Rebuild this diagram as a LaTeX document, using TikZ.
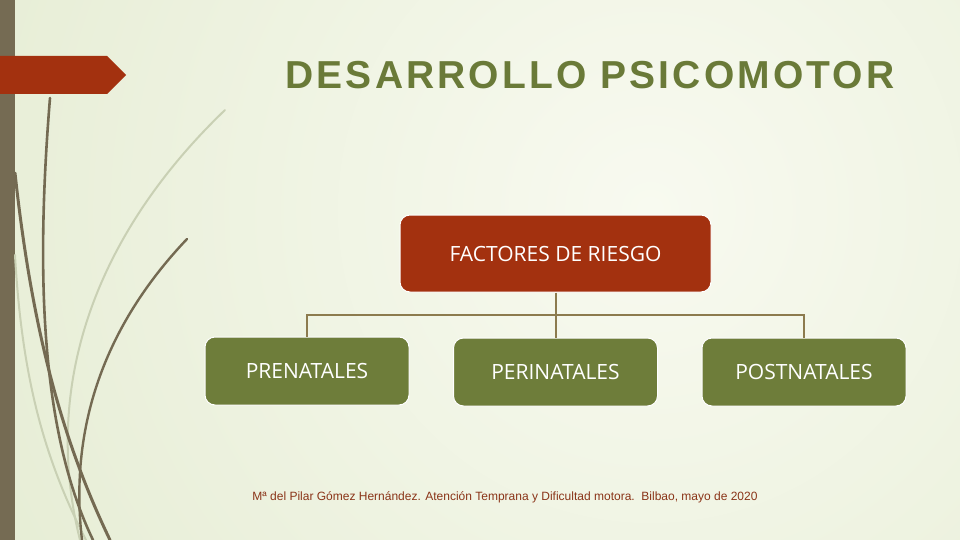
\documentclass[tikz,border=0pt]{standalone}
\usepackage{fontspec}
\setmainfont{Open Sans}
\newfontfamily\titlefont[LetterSpace=8]{Liberation Sans}
\newfontfamily\footfont{Liberation Sans}
\definecolor{bgout}{HTML}{DAE4C2}
\definecolor{bgin}{HTML}{F8FAF0}
\definecolor{barbrown}{HTML}{756B53}
\definecolor{rust}{HTML}{A3310F}
\definecolor{olive}{HTML}{6E7D3A}
\definecolor{titlegreen}{HTML}{6A7A38}
\definecolor{linktan}{HTML}{8C7B4E}
\definecolor{footred}{HTML}{8A3418}
\definecolor{grassdark}{HTML}{746A52}
\definecolor{grasslight}{HTML}{C9D0B4}
\tikzset{
  box/.style={draw=white, line width=1pt, rounded corners=10pt, minimum width=204pt, minimum height=68pt, inner sep=0pt, text=white, font=\fontsize{21}{24}\selectfont},
  topbox/.style={box, fill=rust, minimum width=311pt, minimum height=77pt},
  childbox/.style={box, fill=olive},
  link/.style={draw=linktan, line width=2pt},
  grassd/.style={draw=grassdark, line cap=round},
  grassl/.style={draw=grasslight, line cap=round},
}
\begin{document}
\begin{tikzpicture}[x=1pt,y=-1pt]
\useasboundingbox (0,0) rectangle (960,540);
\begin{scope}
\clip (0,0) rectangle (960,540);
\shade[inner color=bgin, outer color=bgout] (650,210) circle (1250);
\end{scope}
% left bar
\fill[barbrown] (0,0) rectangle (15,540);
% banner
\fill[rust] (0,56) -- (107,56) -- (126,75) -- (107,94) -- (0,94) -- cycle;
% grass strokes
\draw[grassl, line width=2pt] (225,110) .. controls (100,230) and (40,380) .. (80,540);
\draw[grassl, line width=2pt] (15,255) .. controls (22,380) and (45,460) .. (86,540);
\draw[grassd, line width=2.6pt] (50,98) .. controls (36,270) and (40,430) .. (93,540);
\draw[grassd, line width=3pt] (15,173) .. controls (32,330) and (62,440) .. (110,540);
\draw[grassd, line width=2.4pt] (187,239) .. controls (110,320) and (68,420) .. (82,540);
% title
\node[text=titlegreen, font=\titlefont\bfseries\fontsize{39}{42}\selectfont] (title) at (590,75) {DESARROLLO PSICOMOTOR};
% nodes
\node[topbox] (top) at (555.5,253.5) {FACTORES DE RIESGO};
\node[childbox] (pre) at (307,371) {PRENATALES};
\node[childbox] (peri) at (555.5,372) {PERINATALES};
\node[childbox] (post) at (804,372) {POSTNATALES};
% connectors
\coordinate (hub) at (555.5,315);
\draw[link] (top.south) -- (hub);
\draw[link] (pre.north) -- (pre.north |- hub) -- (post.north |- hub) -- (post.north);
\draw[link] (peri.north) -- (hub);
% footer
\node[text=footred, font=\footfont\fontsize{12}{14}\selectfont] (foot) at (505,497) {Mª del Pilar Gómez Hernández. Atención Temprana y Dificultad motora.\ \ Bilbao, mayo de 2020};
\end{tikzpicture}
\end{document}
